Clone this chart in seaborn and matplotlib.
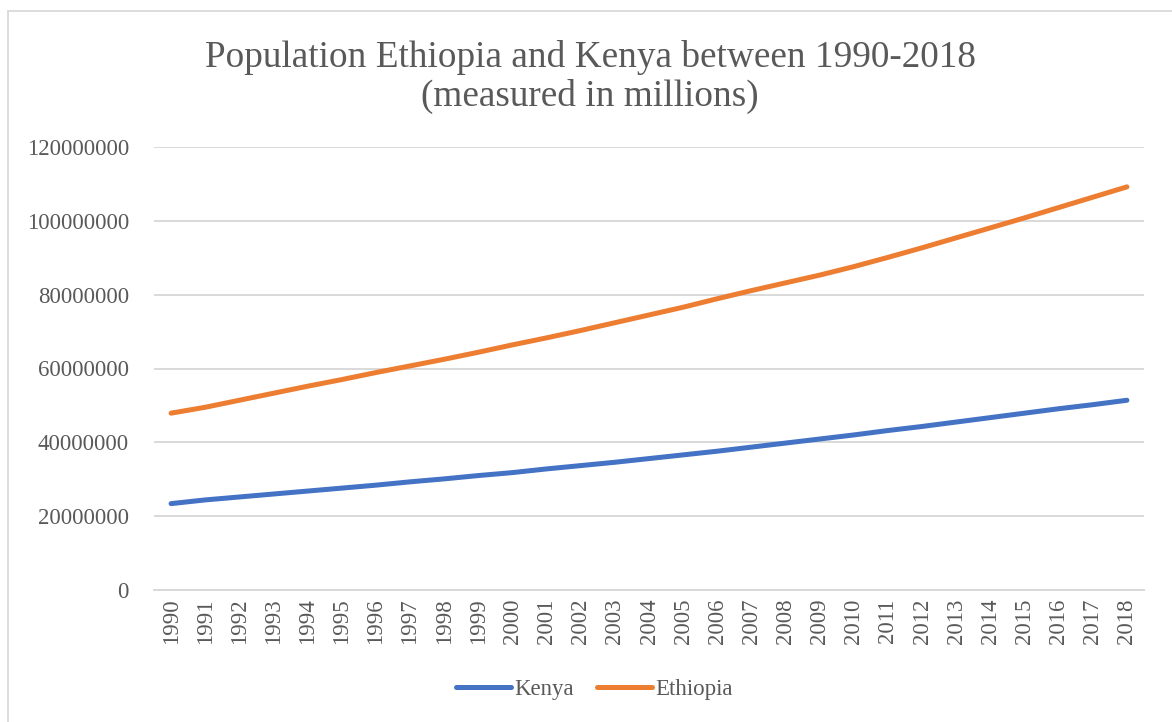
import matplotlib
matplotlib.use("Agg")
import matplotlib.pyplot as plt
import seaborn as sns
import pandas as pd
from matplotlib.patches import Rectangle
from matplotlib.lines import Line2D

years = [str(y) for y in range(1990, 2019)]
kenya = [23.4, 24.4, 25.2, 26.0, 26.8, 27.6, 28.4, 29.3, 30.1, 31.0,
         31.8, 32.8, 33.7, 34.6, 35.6, 36.6, 37.6, 38.7, 39.8, 40.9,
         42.0, 43.2, 44.3, 45.5, 46.7, 47.9, 49.1, 50.2, 51.4]
ethiopia = [47.9, 49.5, 51.4, 53.3, 55.2, 57.0, 58.9, 60.7, 62.5, 64.4,
            66.4, 68.3, 70.3, 72.4, 74.5, 76.6, 78.9, 81.1, 83.2, 85.3,
            87.6, 90.1, 92.7, 95.4, 98.1, 100.8, 103.6, 106.4, 109.2]
series_names = ["Kenya", "Ethiopia"]
yticks = [0, 20000000, 40000000, 60000000, 80000000, 100000000, 120000000]
title = "Population Ethiopia and Kenya between 1990-2018\n(measured in millions)"

rows = []
for name, vals in zip(series_names, [kenya, ethiopia]):
    for i, (yr, v) in enumerate(zip(years, vals)):
        rows.append({"idx": i, "year": yr, "value": v * 1e6, "series": name})
df = pd.DataFrame(rows)

sns.set_theme(style="white")
plt.rcParams["font.family"] = ["Liberation Serif", "DejaVu Serif"]

W, H = 1172, 722
fig = plt.figure(figsize=(W / 100, H / 100), dpi=100)
ax = fig.add_axes([154 / W, 1 - 590 / H, (1144 - 154) / W, (590 - 147) / H])

palette = {"Kenya": "#4472C4", "Ethiopia": "#ED7D31"}
sns.lineplot(data=df, x="idx", y="value", hue="series", palette=palette,
             linewidth=3.6, ax=ax, legend=False, solid_capstyle="round")

ax.set_xlim(-0.5, len(years) - 0.5)
ax.set_ylim(0, 120000000)
ax.set_yticks(yticks)
ax.set_yticklabels([str(t) for t in yticks])
ax.set_xticks(range(len(years)))
ax.set_xticklabels(years, rotation=90)
ax.tick_params(axis="both", length=0, labelsize=16.5, labelcolor="#595959")
ax.tick_params(axis="y", pad=18)
ax.tick_params(axis="x", pad=6)
ax.grid(axis="y", color="#d9d9d9", linewidth=1.4)
ax.set_axisbelow(True)
for s in ["top", "right", "left"]:
    ax.spines[s].set_visible(False)
ax.spines["bottom"].set_color("#d9d9d9")
ax.spines["bottom"].set_linewidth(1.4)
ax.set_xlabel("")
ax.set_ylabel("")

fig.text(590 / W, 1 - 77 / H, title, ha="center", va="center",
         fontsize=26.8, color="#595959", linespacing=1.12)

handles = [Line2D([0], [0], color=palette[n], linewidth=3.6, solid_capstyle="round")
           for n in series_names]
fig.legend(handles, series_names, loc="center", bbox_to_anchor=(594 / W, 1 - 689 / H),
           ncol=2, frameon=False, fontsize=16.5, handlelength=2.4, handletextpad=0.15,
           columnspacing=1.0, labelcolor="#595959")

fig.add_artist(Rectangle((8 / W, -0.05), 1.1, 1.05 - 11 / H,
                         transform=fig.transFigure, fill=False,
                         edgecolor="#d9d9d9", linewidth=1.3))

fig.savefig("out.png", dpi=100)
